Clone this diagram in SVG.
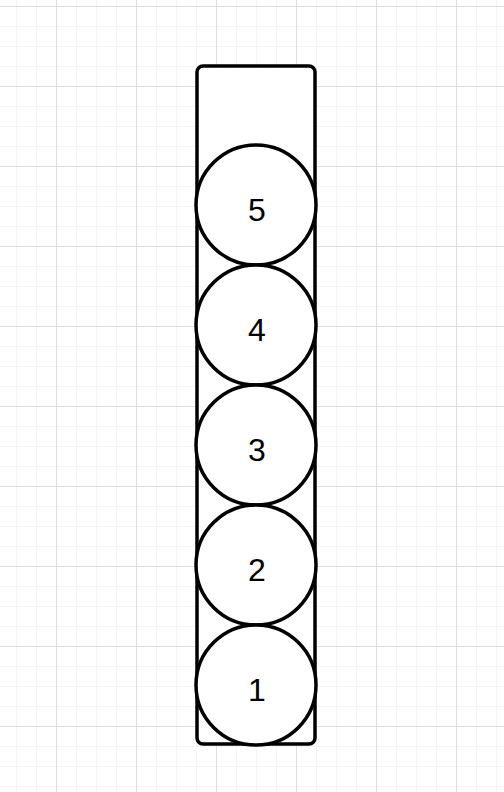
<svg xmlns="http://www.w3.org/2000/svg" width="504" height="792" viewBox="0 0 504 792">
  <defs>
    <pattern id="minor" x="16" y="6" width="20" height="20" patternUnits="userSpaceOnUse">
      <path d="M0.5 0 V20 M0 0.5 H20" fill="none" stroke="#f4f4f4" stroke-width="1"/>
    </pattern>
    <pattern id="major" x="56" y="6" width="80" height="80" patternUnits="userSpaceOnUse">
      <path d="M0.5 0 V80 M0 0.5 H80" fill="none" stroke="#dedede" stroke-width="1"/>
    </pattern>
  </defs>
  <style>
    .shape { fill: #ffffff; stroke: #000000; stroke-width: 3.5; }
    .label { font-family: "Liberation Sans", Arial, sans-serif; font-size: 32px; fill: #000000; text-anchor: middle; }
  </style>
  <rect width="504" height="792" fill="#ffffff"/>
  <rect width="504" height="792" fill="url(#minor)"/>
  <rect width="504" height="792" fill="url(#major)"/>
  <g id="tube">
    <rect class="shape" x="197" y="66" width="118" height="678" rx="6" ry="6"/>
  </g>
  <g id="ball5">
    <circle class="shape" cx="256" cy="205" r="60"/>
    <text class="label" x="257" y="221">5</text>
  </g>
  <g id="ball4">
    <circle class="shape" cx="256" cy="325" r="60"/>
    <text class="label" x="257" y="341">4</text>
  </g>
  <g id="ball3">
    <circle class="shape" cx="256" cy="445" r="60"/>
    <text class="label" x="257" y="461">3</text>
  </g>
  <g id="ball2">
    <circle class="shape" cx="256" cy="565" r="60"/>
    <text class="label" x="257" y="581">2</text>
  </g>
  <g id="ball1">
    <circle class="shape" cx="256" cy="685" r="60"/>
    <text class="label" x="257" y="701">1</text>
  </g>
  <g id="connectors"/>
</svg>
